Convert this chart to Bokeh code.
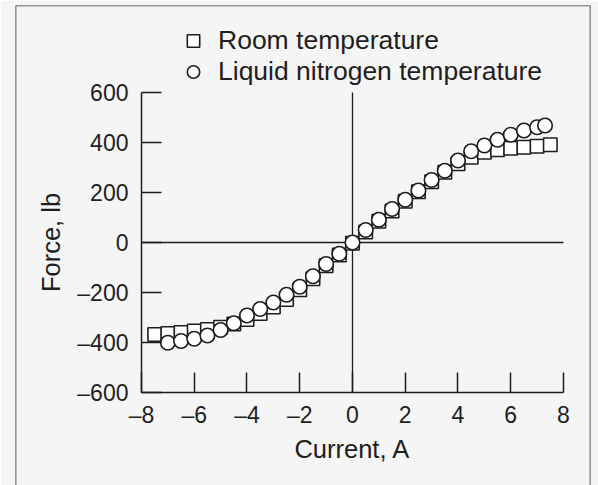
from bokeh.plotting import figure
from bokeh.models import (LinearAxis, FixedTicker, Range1d, Legend, LegendItem,
                          Span, ColumnDataSource)
from bokeh.embed import file_html
from bokeh.resources import INLINE

# ---- data ----
room_current = [-7.5, -7.0, -6.5, -6.0, -5.5, -5.0, -4.5, -4.0, -3.5, -3.0, -2.5,
                -2.0, -1.5, -1.0, -0.5, 0.0, 0.5, 1.0, 1.5, 2.0, 2.5, 3.0, 3.5,
                4.0, 4.5, 5.0, 5.5, 6.0, 6.5, 7.0, 7.5]
room_force = [-368, -364, -360, -354, -348, -339, -326, -308, -284, -258, -228,
              -189, -145, -93, -50, -3, 42, 85, 126, 165, 203, 243, 281,
              315, 341, 361, 371, 377, 381, 385, 391]

ln2_current = [-7.0, -6.5, -6.0, -5.5, -5.0, -4.5, -4.0, -3.5, -3.0, -2.5, -2.0,
               -1.5, -1.0, -0.5, 0.0, 0.5, 1.0, 1.5, 2.0, 2.5, 3.0, 3.5, 4.0,
               4.5, 5.0, 5.5, 6.0, 6.5, 7.0, 7.3]
ln2_force = [-401, -394, -385, -372, -350, -323, -292, -266, -240, -209, -177,
             -135, -86, -45, 0, 50, 91, 134, 171, 208, 250, 287, 328,
             365, 388, 411, 431, 448, 461, 468]

series_labels = ["Room temperature", "Liquid nitrogen temperature"]

x_ticks = [-8, -6, -4, -2, 0, 2, 4, 6, 8]
x_tick_labels = ["\u20138", "\u20136", "\u20134", "\u20132", "0", "2", "4", "6", "8"]
y_ticks = [-600, -400, -200, 0, 200, 400, 600]
y_tick_labels = ["\u2013600", "\u2013400", "\u2013200", "0", "200", "400", "600"]
x_bounds = (-8, 8)
y_bounds = (-600, 600)

FONT = "Liberation Sans"
INK = "#1e1e1e"
BG = "#f4f5f4"

X0, X1 = -12.777, 9.024
Y0, Y1 = -972, 948

p = figure(width=598, height=485, output_backend="svg", toolbar_location=None,
           x_range=Range1d(X0, X1), y_range=Range1d(Y0, Y1),
           x_axis_type=None, y_axis_type=None,
           min_border_left=15, min_border_right=8, min_border_top=5,
           min_border_bottom=0)
p.outline_line_color = None
p.background_fill_color = BG
p.border_fill_color = BG

# outer box (three visible sides)
for loc, dim in [(X0, "height"), (X1, "height"), (Y1, "width")]:
    p.add_layout(Span(location=loc, dimension=dim, line_color="#333333",
                      line_width=1.6))

# zero reference lines
p.segment(x0=[x_bounds[0], 0], y0=[0, y_bounds[0]],
          x1=[x_bounds[1], 0], y1=[0, y_bounds[1]],
          line_color=INK, line_width=1.3)

def style_axis(ax):
    ax.axis_line_color = INK
    ax.axis_line_width = 1.5
    ax.major_tick_line_color = INK
    ax.major_tick_line_width = 1.5
    ax.major_tick_in = 20
    ax.major_tick_out = 0
    ax.minor_tick_line_color = None
    ax.major_label_text_font = FONT
    ax.major_label_text_font_size = "23px"
    ax.major_label_text_color = INK
    ax.axis_label_text_font = FONT
    ax.axis_label_text_font_size = "25.5px"
    ax.axis_label_text_font_style = "normal"
    ax.axis_label_text_color = INK

xaxis = LinearAxis(fixed_location=y_bounds[0], bounds=x_bounds,
                   ticker=FixedTicker(ticks=x_ticks),
                   major_label_overrides=dict(zip(x_ticks, x_tick_labels)),
                   axis_label="Current, A")
style_axis(xaxis)
xaxis.major_label_standoff = 9
xaxis.axis_label_standoff = 4
p.add_layout(xaxis, "below")

yaxis = LinearAxis(fixed_location=x_bounds[0], bounds=y_bounds,
                   ticker=FixedTicker(ticks=y_ticks),
                   major_label_overrides=dict(zip(y_ticks, y_tick_labels)),
                   axis_label="Force, lb")
style_axis(yaxis)
yaxis.major_label_standoff = 13
yaxis.axis_label_standoff = 9
p.add_layout(yaxis, "left")

src_room = ColumnDataSource(dict(x=room_current, y=room_force))
src_ln2 = ColumnDataSource(dict(x=ln2_current, y=ln2_force))

r_room = p.scatter("x", "y", source=src_room, marker="square", size=13.5,
                   fill_color="white", line_color=INK, line_width=1.6)
r_ln2 = p.scatter("x", "y", source=src_ln2, marker="circle", size=14.5,
                  fill_color="white", line_color=INK, line_width=1.6)

legend = Legend(items=[LegendItem(label=series_labels[0], renderers=[r_room]),
                       LegendItem(label=series_labels[1], renderers=[r_ln2])],
                location=(160, 398))
legend.background_fill_alpha = 0
legend.border_line_color = None
legend.padding = 0
legend.margin = 0
legend.spacing = 0
legend.glyph_width = 36
legend.glyph_height = 31
legend.label_standoff = 7
legend.label_text_font = FONT
legend.label_text_font_size = "26.5px"
legend.label_text_color = INK
legend.label_text_line_height = 1.0
p.add_layout(legend, "center")

open("out.html", "w").write(file_html(p, INLINE))
